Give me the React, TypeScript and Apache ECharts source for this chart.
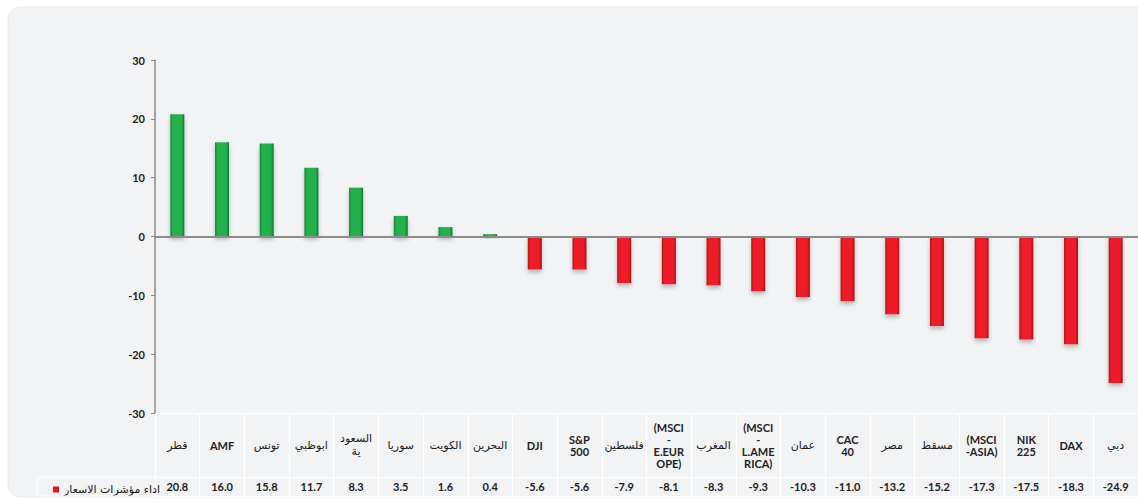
import React, { useEffect, useRef } from "react";
import * as echarts from "echarts";

// Market index performance (%), in the order they are plotted.
const categories: string[] = [
  "قطر",
  "AMF",
  "تونس",
  "ابوظبي",
  "السعود\nية",
  "سوريا",
  "الكويت",
  "البحرين",
  "DJI",
  "S&P\n500",
  "فلسطين",
  "(MSCI\n-\nE.EUR\nOPE)",
  "المغرب",
  "(MSCI\n-\nL.AME\nRICA)",
  "عمان",
  "CAC\n40",
  "مصر",
  "مسقط",
  "(MSCI\n-ASIA)",
  "NIK\n225",
  "DAX",
  "دبي",
];

const performance: number[] = [
  20.8, 16.0, 15.8, 11.7, 8.3, 3.5, 1.6, 0.4, -5.6, -5.6, -7.9, -8.1, -8.3,
  -9.3, -10.3, -11.0, -13.2, -15.2, -17.3, -17.5, -18.3, -24.9,
];

const seriesName = "اداء مؤشرات الاسعار";
const yTicks = { min: -30, max: 30, interval: 10 };

const LATIN = "Lato, 'Open Sans', sans-serif";
const ARABIC = "'DejaVu Sans', sans-serif";
const TABLE_LINE = "#ffffff";

const isArabic = (s: string) => /[\u0600-\u06FF]/.test(s);

// Each line gets its own rich-text style: Arabic in a regular face, Latin bold.
const formatCategory = (label: string) =>
  label
    .split("\n")
    .map((line) => (isArabic(line) ? `{ar|${line}}` : `{en|${line}}`))
    .join("\n");

const greenFill = new echarts.graphic.LinearGradient(0, 0, 1, 0, [
  { offset: 0, color: "#15843a" },
  { offset: 0.18, color: "#22b14c" },
  { offset: 0.8, color: "#22b14c" },
  { offset: 1, color: "#117232" },
]);
const redFill = new echarts.graphic.LinearGradient(0, 0, 1, 0, [
  { offset: 0, color: "#b3141a" },
  { offset: 0.18, color: "#ee1c25" },
  { offset: 0.8, color: "#ee1c25" },
  { offset: 1, color: "#a11218" },
]);

export default function App() {
  const ref = useRef<HTMLDivElement>(null);

  useEffect(() => {
    if (!ref.current) return;
    const chart = echarts.init(ref.current, undefined, { renderer: "svg" });

    const gridLeft = 155;
    const gridTop = 60;
    const gridBottom = 90;
    const catRowH = 64;
    const valRowH = 19;

    chart.setOption({
      animation: false,
      backgroundColor: "#ffffff",
      graphic: [
        {
          type: "rect",
          z: -10,
          shape: { x: 8, y: 7, width: 1140, height: 490, r: 12 },
          style: { fill: "#f2f3f5", stroke: "#e9eaec", lineWidth: 1 },
        },
        // legend cell of the data table
        {
          type: "polyline",
          z: 5,
          shape: {
            points: [
              [gridLeft, 503 - gridBottom + catRowH],
              [37, 503 - gridBottom + catRowH],
              [37, 503 - gridBottom + catRowH + valRowH],
              [gridLeft, 503 - gridBottom + catRowH + valRowH],
            ],
          },
          style: { stroke: TABLE_LINE, lineWidth: 1, fill: "none" },
        },
      ],
      legend: {
        left: 48,
        top: 479,
        itemWidth: 6,
        itemHeight: 6,
        itemGap: 2,
        icon: "rect",
        textStyle: { fontFamily: ARABIC, fontSize: 11, color: "#1a1a1a" },
        data: [{ name: seriesName, itemStyle: { color: "#e3141c" } }],
      },
      grid: {
        left: gridLeft,
        top: gridTop,
        width: 984,
        bottom: gridBottom,
        containLabel: false,
      },
      xAxis: [
        {
          type: "category",
          data: categories,
          position: "bottom",
          axisLine: { show: true, onZero: false, lineStyle: { color: TABLE_LINE, width: 1 } },
          axisTick: {
            show: true,
            interval: 0,
            alignWithLabel: false,
            length: catRowH + valRowH,
            lineStyle: { color: TABLE_LINE, width: 1 },
          },
          axisLabel: {
            interval: 0,
            margin: catRowH / 2,
            verticalAlign: "middle",
            formatter: formatCategory,
            rich: {
              en: {
                fontFamily: LATIN,
                fontWeight: "bold",
                fontSize: 11,
                lineHeight: 12,
                color: "#222",
              },
              ar: {
                fontFamily: ARABIC,
                fontSize: 11,
                lineHeight: 13,
                color: "#1a1a1a",
              },
            },
          },
          splitLine: { show: false },
        },
        {
          type: "category",
          data: categories,
          position: "bottom",
          offset: catRowH,
          axisLine: { show: true, onZero: false, lineStyle: { color: TABLE_LINE, width: 1 } },
          axisTick: { show: false },
          axisLabel: {
            interval: 0,
            margin: valRowH / 2,
            verticalAlign: "middle",
            fontFamily: LATIN,
            fontWeight: "bold",
            fontSize: 11,
            color: "#222",
            formatter: (_v: string, i: number) => performance[i].toFixed(1),
          },
        },
        {
          type: "category",
          data: categories,
          position: "bottom",
          offset: catRowH + valRowH,
          axisLine: { show: true, onZero: false, lineStyle: { color: TABLE_LINE, width: 1 } },
          axisTick: { show: false },
          axisLabel: { show: false },
        },
      ],
      yAxis: {
        type: "value",
        min: yTicks.min,
        max: yTicks.max,
        interval: yTicks.interval,
        axisLine: { show: true, lineStyle: { color: "#8a8a8a", width: 1.5 } },
        axisTick: { show: true, length: 4, lineStyle: { color: "#8a8a8a" } },
        splitLine: { show: false },
        axisLabel: {
          margin: 10,
          fontFamily: LATIN,
          fontWeight: "bold",
          fontSize: 11,
          color: "#222",
        },
      },
      series: [
        {
          name: seriesName,
          type: "bar",
          xAxisIndex: 0,
          barWidth: 14,
          data: performance,
          itemStyle: {
            color: (p: any) => (p.value >= 0 ? greenFill : redFill),
            shadowColor: "rgba(0,0,0,0.25)",
            shadowBlur: 4,
            shadowOffsetY: 3,
          },
          markLine: {
            silent: true,
            symbol: "none",
            label: { show: false },
            lineStyle: { color: "#8c8c8c", width: 2, type: "solid" },
            data: [{ yAxis: 0 }],
          },
        },
      ],
    });

    return () => chart.dispose();
  }, []);

  return (
    <div
      ref={ref}
      style={{ position: "fixed", left: 0, top: 0, width: 1138, height: 503 }}
    />
  );
}
